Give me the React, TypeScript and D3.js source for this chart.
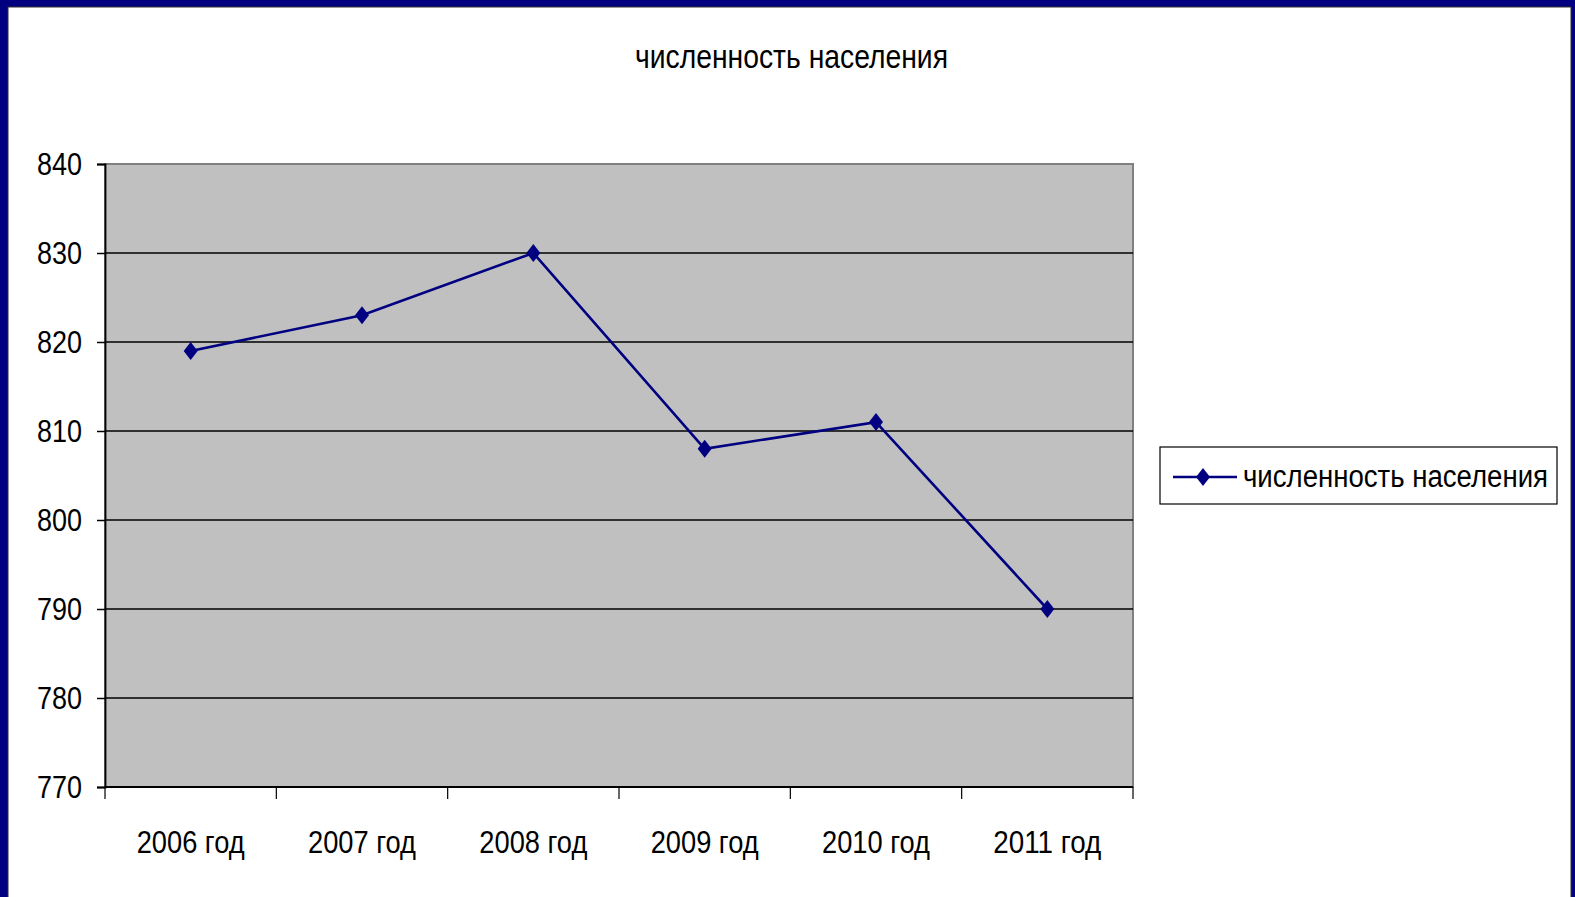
import React, { useEffect, useRef } from 'react';
import * as d3 from 'd3';

const categories = ['2006 год', '2007 год', '2008 год', '2009 год', '2010 год', '2011 год'];
const populationValues = [819, 823, 830, 808, 811, 790];
const yTicks = [770, 780, 790, 800, 810, 820, 830, 840];
const seriesName = 'численность населения';
const chartTitle = 'численность населения';

const FONT = '"Liberation Sans", Arial, sans-serif';
const NAVY = '#000080';

// diamond marker, slightly taller than wide
const diamondPath = (hw: number, hh: number) => {
  const p = d3.path();
  p.moveTo(0, -hh);
  p.lineTo(hw, 0);
  p.lineTo(0, hh);
  p.lineTo(-hw, 0);
  p.closePath();
  return p.toString();
};

const App: React.FC = () => {
  const svgRef = useRef<SVGSVGElement>(null);

  useEffect(() => {
    if (!svgRef.current) return;
    const svg = d3.select(svgRef.current);
    svg.selectAll('*').remove();

    const W = 1575;
    const H = 897;
    const plot = { left: 105, right: 1133, top: 164, bottom: 787 };

    // frame
    svg.append('rect').attr('width', W).attr('height', H).attr('fill', NAVY);
    svg.append('rect')
      .attr('x', 8).attr('y', 7)
      .attr('width', 1563).attr('height', H)
      .attr('fill', '#fff')
      .attr('stroke', '#333').attr('stroke-width', 1);

    // title
    svg.append('text')
      .attr('x', 635).attr('y', 68)
      .attr('font-family', FONT)
      .attr('font-size', 33)
      .attr('textLength', 313)
      .attr('lengthAdjust', 'spacingAndGlyphs')
      .text(chartTitle);

    const xScale = d3.scaleBand<string>()
      .domain(categories)
      .range([plot.left, plot.right])
      .padding(0);

    const yScale = d3.scaleLinear()
      .domain([770, 840])
      .range([plot.bottom, plot.top]);

    // plot area
    svg.append('rect')
      .attr('x', plot.left).attr('y', plot.top)
      .attr('width', plot.right - plot.left)
      .attr('height', plot.bottom - plot.top)
      .attr('fill', '#c0c0c0')
      .attr('stroke', '#808080')
      .attr('stroke-width', 2);

    // gridlines
    svg.append('g')
      .selectAll('line')
      .data(yTicks.filter(t => t !== 770 && t !== 840))
      .enter()
      .append('line')
      .attr('x1', plot.left).attr('x2', plot.right)
      .attr('y1', d => yScale(d)).attr('y2', d => yScale(d))
      .attr('stroke', '#000').attr('stroke-width', 1.5);

    // y axis
    const yAxis = svg.append('g')
      .attr('transform', `translate(${plot.left},0)`)
      .call(d3.axisLeft(yScale).tickValues(yTicks).tickSize(8).tickPadding(15).tickFormat(d3.format('d')));
    yAxis.select('.domain').attr('stroke', '#000').attr('stroke-width', 1.8);
    yAxis.selectAll('line').attr('stroke', '#000').attr('stroke-width', 1.5);
    yAxis.selectAll('text')
      .attr('font-family', FONT)
      .attr('font-size', 32)
      .attr('fill', '#000')
      .attr('textLength', 45)
      .attr('lengthAdjust', 'spacingAndGlyphs');

    // x axis
    const boundaries = [...categories.map(c => xScale(c)!), plot.right];
    svg.append('line')
      .attr('x1', plot.left).attr('x2', plot.right)
      .attr('y1', plot.bottom).attr('y2', plot.bottom)
      .attr('stroke', '#000').attr('stroke-width', 1.8);
    svg.append('g')
      .selectAll('line')
      .data(boundaries)
      .enter()
      .append('line')
      .attr('x1', d => d).attr('x2', d => d)
      .attr('y1', plot.bottom).attr('y2', plot.bottom + 12)
      .attr('stroke', '#000').attr('stroke-width', 1.2);
    svg.append('g')
      .selectAll('text')
      .data(categories)
      .enter()
      .append('text')
      .attr('x', d => xScale(d)! + xScale.bandwidth() / 2 - 54)
      .attr('y', 853)
      .attr('font-family', FONT)
      .attr('font-size', 32)
      .attr('textLength', 108)
      .attr('lengthAdjust', 'spacingAndGlyphs')
      .text(d => d);

    // series
    const pts = categories.map((c, i) => [xScale(c)! + xScale.bandwidth() / 2, yScale(populationValues[i])] as [number, number]);
    svg.append('path')
      .attr('d', d3.line()(pts))
      .attr('fill', 'none')
      .attr('stroke', NAVY)
      .attr('stroke-width', 2.6);

    const diamond = diamondPath(7, 9);
    svg.append('g')
      .selectAll('path')
      .data(pts)
      .enter()
      .append('path')
      .attr('d', diamond)
      .attr('transform', d => `translate(${d[0]},${d[1]})`)
      .attr('fill', NAVY);

    // legend
    const lg = svg.append('g');
    lg.append('rect')
      .attr('x', 1160).attr('y', 447)
      .attr('width', 397).attr('height', 57)
      .attr('fill', '#fff')
      .attr('stroke', '#000').attr('stroke-width', 1.2);
    lg.append('line')
      .attr('x1', 1173).attr('x2', 1237)
      .attr('y1', 477).attr('y2', 477)
      .attr('stroke', NAVY).attr('stroke-width', 2.6);
    lg.append('path')
      .attr('d', diamond)
      .attr('transform', 'translate(1203,477)')
      .attr('fill', NAVY);
    lg.append('text')
      .attr('transform', 'translate(1243,487) scale(1,1.2)')
      .attr('font-family', FONT)
      .attr('font-size', 26)
      .attr('textLength', 305)
      .attr('lengthAdjust', 'spacingAndGlyphs')
      .text(seriesName);
  }, []);

  return (
    <svg
      ref={svgRef}
      width={1575}
      height={897}
      style={{ position: 'absolute', left: 0, top: 0, display: 'block' }}
    />
  );
};

export default App;
